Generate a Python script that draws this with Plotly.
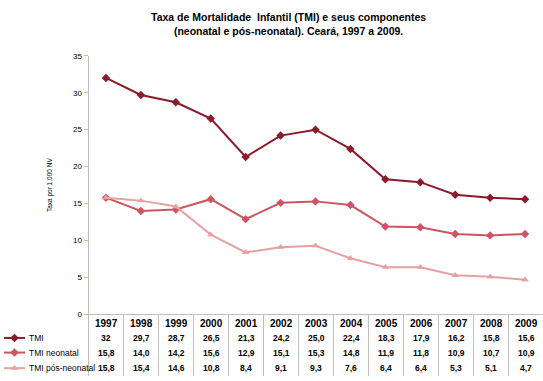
import plotly.graph_objects as go

years = ["1997","1998","1999","2000","2001","2002","2003","2004","2005","2006","2007","2008","2009"]
tmi = [32, 29.7, 28.7, 26.5, 21.3, 24.2, 25.0, 22.4, 18.3, 17.9, 16.2, 15.8, 15.6]
neo = [15.8, 14.0, 14.2, 15.6, 12.9, 15.1, 15.3, 14.8, 11.9, 11.8, 10.9, 10.7, 10.9]
pos = [15.8, 15.4, 14.6, 10.8, 8.4, 9.1, 9.3, 7.6, 6.4, 6.4, 5.3, 5.1, 4.7]
tmi_labels = ["32","29,7","28,7","26,5","21,3","24,2","25,0","22,4","18,3","17,9","16,2","15,8","15,6"]
series_names = ["TMI", "TMI neonatal", "TMI pós-neonatal"]
colors = ["#8B1A2A", "#CC5560", "#E8A0A2"]
symbols = ["diamond", "diamond", "triangle-up"]

W, H = 543, 381
FONT = "Liberation Sans, Arial, sans-serif"

x0, x1 = 88.5, 543.5
ytop, ybot = 53, 318

def fmt(v):
    return f"{v:.1f}".replace(".", ",")

fig = go.Figure()
idx = list(range(len(years)))
for vals, name, c, s in zip([tmi, neo, pos], series_names, colors, symbols):
    fig.add_trace(go.Scatter(x=idx, y=vals, mode="lines+markers", name=name,
                             line=dict(color=c, width=2),
                             marker=dict(symbol=s, size=6.5, color=c),
                             xaxis="x", yaxis="y", showlegend=False))

# legend / table in pixel coordinates via a full-page axis pair
row_y = [342, 357, 373]
for ry, name, c, s in zip(row_y, series_names, colors, symbols):
    fig.add_trace(go.Scatter(x=[4, 25], y=[ry, ry], mode="lines", line=dict(color=c, width=2),
                             xaxis="x2", yaxis="y2", showlegend=False, hoverinfo="skip"))
    fig.add_trace(go.Scatter(x=[14.5], y=[ry], mode="markers", marker=dict(symbol=s, size=6.5, color=c),
                             xaxis="x2", yaxis="y2", showlegend=False, hoverinfo="skip"))

annotations = []
colw = (x1 - x0) / len(years)
for i, yr in enumerate(years):
    cx = x0 + colw * (i + 0.5)
    annotations.append(dict(x=cx, y=327, xref="x2", yref="y2", text=f"<b>{yr}</b>", showarrow=False,
                            font=dict(size=10, color="#000", family=FONT)))
    for ry, txt in zip(row_y, [tmi_labels[i], fmt(neo[i]), fmt(pos[i])]):
        annotations.append(dict(x=cx, y=ry, xref="x2", yref="y2", text=f"<b>{txt}</b>", showarrow=False,
                                font=dict(size=8.5, color="#000", family=FONT)))
for ry, name in zip(row_y, series_names):
    annotations.append(dict(x=27, y=ry, xref="x2", yref="y2", text=name, showarrow=False,
                            xanchor="left", font=dict(size=8.5, color="#000", family=FONT)))
annotations.append(dict(x=50, y=(ytop + ybot) / 2, xref="x2", yref="y2", text="Taxa por 1.000 NV",
                        showarrow=False, textangle=-90, font=dict(size=6.5, color="#000", family=FONT)))
annotations.append(dict(x=288, y=20, xref="x2", yref="y2",
                        text="<b>Taxa de Mortalidade  Infantil (TMI) e seus componentes<br>(neonatal e pós-neonatal). Ceará, 1997 a 2009.</b>",
                        showarrow=False, font=dict(size=10.5, color="#000", family=FONT)))

shapes = []
for i in range(1, len(years) + 1):
    xx = x0 + colw * i
    shapes.append(dict(type="line", xref="x2", yref="y2", x0=xx, x1=xx, y0=ybot, y1=381,
                       line=dict(color="#BFBFBF", width=1)))
shapes.append(dict(type="line", xref="x2", yref="y2", x0=x0, x1=x0, y0=ybot, y1=381,
                   line=dict(color="#BFBFBF", width=1)))
shapes.append(dict(type="line", xref="x2", yref="y2", x0=84, x1=x1, y0=ybot, y1=ybot,
                   line=dict(color="#BFBFBF", width=1)))

fig.update_layout(
    width=W, height=H, margin=dict(l=0, r=0, t=0, b=0),
    paper_bgcolor="white", plot_bgcolor="rgba(0,0,0,0)",
    xaxis=dict(domain=[x0 / W, 1], range=[-0.5, len(years) - 0.5 + 0.5 / colw],
               showticklabels=False, showgrid=False, zeroline=False, showline=False, fixedrange=True),
    yaxis=dict(domain=[(H - ybot) / H, (H - ytop) / H], range=[0, 35], dtick=5,
               showgrid=False, zeroline=False, showline=True, linecolor="#BFBFBF", linewidth=1,
               ticks="outside", ticklen=4, tickcolor="#BFBFBF",
               tickfont=dict(size=8, color="#000", family=FONT)),
    xaxis2=dict(domain=[0, 1], range=[0, W], visible=False, anchor="y2"),
    yaxis2=dict(domain=[0, 1], range=[H, 0], visible=False, anchor="x2"),
    annotations=annotations, shapes=shapes, showlegend=False,
)
fig.write_html("out.html", config={"displayModeBar": False},
               post_script="document.body.style.margin='0';document.body.style.overflow='hidden';")
